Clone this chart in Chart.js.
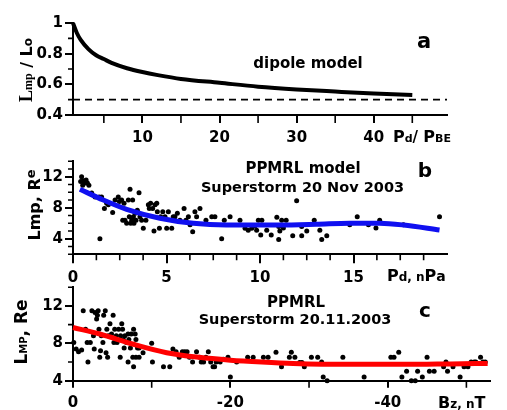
<!DOCTYPE html>
<html>
<head>
<meta charset="utf-8">
<script src="https://cdn.jsdelivr.net/npm/chart.js@4.4.1/dist/chart.umd.min.js"></script>
<style>
  html, body { margin: 0; padding: 0; background: #fff; }
  #wrap { position: relative; width: 507px; height: 410px; }
  canvas { position: absolute; left: 0; top: 0; }
</style>
</head>
<body>
<div id="wrap">
  <canvas id="cA" width="507" height="410"></canvas>
  <canvas id="cB" width="507" height="410"></canvas>
  <canvas id="cC" width="507" height="410"></canvas>
</div>
<script>
// ---- panel a: dipole model ----
const aCurveX = [1, 1.5, 2, 3, 4, 5, 6, 8, 10, 12, 15, 20, 25, 30, 35, 40, 45];
const aCurveY = [1.0, 0.935, 0.89, 0.83, 0.79, 0.765, 0.74, 0.705, 0.68, 0.66, 0.635, 0.61, 0.585, 0.567, 0.553, 0.54, 0.53];
const aLimitX = [1, 49.5];
const aLimitY = [0.5, 0.5];
const aXTicks = [10, 20, 30, 40];
const aXMinor = [5, 15, 25, 35, 45];
const aYTicks = [0.4, 0.6, 0.8, 1];
const aYMinor = [0.5, 0.7, 0.9];

// ---- panel b: PPMRL vs Pd ----
const bFitX = [0.37, 1.62, 2.87, 4.65, 6.43, 8.2, 11, 13, 14.8, 16.4, 17.67, 19.6];
const bFitY = [10.4, 9.0, 7.8, 6.65, 6.0, 5.78, 5.78, 5.87, 6.0, 6.0, 5.78, 5.14];
const bPtsX = [0.41, 0.46, 0.55, 0.52, 0.64, 0.7, 0.77, 0.85, 1.0, 1.18, 1.4, 1.53, 1.44, 1.68, 1.8, 1.89, 2.12, 2.25, 2.42, 2.48,
  2.6, 2.66, 2.73, 2.78, 2.87, 2.96, 3.01, 3.05, 3.09, 3.14, 3.19, 3.23, 3.26, 3.32, 3.37, 3.44, 3.53, 3.58, 3.67, 3.76,
  3.9, 4.03, 4.08, 4.15, 4.26, 4.33, 4.39, 4.48, 4.51, 4.62, 4.69, 4.8, 4.92, 5.01, 5.1, 5.28, 5.36, 5.45, 5.58, 5.72,
  5.94, 6.04, 6.17, 6.26, 6.4, 6.52, 6.61, 6.79, 7.11, 7.42, 7.59, 7.95, 8.09, 8.4, 8.93, 9.2, 9.37, 9.56, 9.73, 9.82,
  9.91, 10.04, 10.1, 10.36, 10.6, 10.9, 11.0, 11.06, 11.16, 11.25, 11.0, 11.4, 11.75, 11.96, 12.23, 12.23, 12.5, 12.9, 13.2, 13.3,
  13.57, 14.8, 15.2, 15.8, 16.2, 16.4, 17.67, 19.6];
const bPtsY = [11.4, 12.0, 11.5, 10.9, 11.2, 11.6, 11.2, 10.9, 9.9, 9.4, 9.4, 9.4, 4.0, 7.9, 8.6, 8.4, 7.4, 9.0, 9.4, 8.8,
  9.0, 6.4, 8.6, 6.4, 6.0, 9.0, 6.85, 10.4, 6.0, 6.4, 9.0, 6.85, 6.0, 7.3, 6.4, 7.7, 9.95, 6.85, 6.4, 5.35,
  6.4, 8.4, 7.9, 8.6, 7.9, 5.0, 8.4, 8.6, 7.5, 5.35, 6.85, 7.5, 6.85, 5.35, 7.5, 5.35, 6.85, 6.85, 7.3, 6.4,
  7.9, 6.4, 6.85, 5.8, 4.9, 7.5, 6.85, 7.9, 6.4, 6.85, 6.85, 4.0, 6.4, 6.85, 6.4, 5.35, 5.1, 5.35, 5.65, 5.1,
  6.4, 4.5, 6.4, 5.1, 4.5, 6.77, 5.6, 5.0, 6.4, 5.4, 3.9, 6.4, 4.4, 8.9, 5.6, 4.4, 5.0, 6.4, 5.1, 3.9,
  4.4, 5.8, 6.85, 5.8, 5.4, 6.4, 5.8, 6.85];
const bXTicks = [0, 5, 10, 15];
const bXMinor = [1.25, 2.5, 3.75, 6.25, 7.5, 8.75, 11.25, 12.5, 13.75, 16.25, 17.5, 18.75];
const bYTicks = [4, 8, 12];
const bYMinor = [2, 3, 5, 6, 7, 9, 10, 11, 13, 14];

// ---- panel c: PPMRL vs Bz ----
const cFitX = [0, -3.4, -7.7, -11.9, -16, -20, -24, -28, -35, -42, -48, -52.7];
const cFitY = [9.7, 9.0, 7.9, 7.0, 6.5, 6.2, 6.0, 5.85, 5.75, 5.75, 5.8, 5.85];
const cPtsX = [-0.1, -0.4, -0.7, -1.1, -1.3, -1.6, -1.8, -1.9, -2.2, -2.4, -2.6, -2.7, -2.8, -3.0, -3.1, -3.2, -3.3, -3.4, -3.5, -3.6,
  -3.8, -3.9, -4.1, -4.2, -4.3, -4.4, -4.5, -4.7, -4.9, -5.1, -5.2, -5.3, -5.5, -5.6, -5.8, -6.0, -6.05, -6.2, -6.3, -6.4,
  -6.5, -6.6, -6.8, -7.0, -7.0, -7.1, -7.3, -7.4, -7.6, -7.7, -7.7, -7.9, -8.0, -8.0, -8.2, -8.4, -8.4, -8.9, -10, -10.1,
  -11.5, -12.3, -12.7, -13.1, -13.5, -13.9, -14.2, -14.5, -14.8, -15.2, -15.7, -16.1, -16.3, -16.6, -16.9, -17.2, -17.5, -17.8, -18.0, -18.2,
  -18.7, -19.1, -19.7, -20.0, -20.8, -22.2, -22.9, -24.2, -24.8, -25.8, -26.5, -27.5, -27.75, -28.2, -28.8, -29.1, -29.4, -30.3, -31.1, -31.6,
  -31.8, -32.3, -34.3, -37.0, -40.4, -40.8, -41.4, -41.8, -42.4, -43.0, -43.5, -43.8, -44.4, -45.0, -45.3, -45.9, -47.1, -47.4, -47.6, -48.3,
  -49.2, -49.7, -50.2, -50.6, -51.0, -51.2, -51.8, -52.1, -52.4];
const cPtsY = [8.1, 7.4, 7.1, 7.3, 11.5, 9.5, 8.1, 6.0, 8.1, 11.5, 8.8, 7.4, 11.3, 10.6, 11.0, 11.5, 9.5, 6.5, 7.2, 8.8,
  8.1, 11.0, 11.5, 7.0, 9.5, 6.5, 8.8, 10.1, 9.0, 11.0, 8.1, 9.5, 8.8, 8.1, 9.5, 6.5, 8.8, 10.1, 9.5, 8.4,
  7.5, 8.8, 8.1, 9.0, 6.0, 8.4, 7.5, 9.0, 6.5, 9.5, 5.5, 9.0, 8.4, 6.5, 7.5, 7.5, 6.5, 7.0, 8.0, 6.0,
  5.5, 5.5, 7.4, 7.1, 6.5, 7.1, 7.1, 7.1, 6.5, 6.0, 7.1, 6.5, 6.0, 6.0, 6.5, 7.1, 6.0, 5.5, 5.5, 6.0,
  6.0, 6.3, 6.5, 4.4, 6.0, 6.5, 6.5, 6.5, 6.5, 7.05, 5.5, 6.5, 7.05, 6.5, 5.96, 5.96, 5.5, 6.5, 6.5, 6.0,
  4.4, 4.0, 6.5, 4.4, 6.5, 6.5, 7.05, 4.4, 5.0, 4.0, 4.0, 5.0, 4.4, 6.5, 5.0, 5.0, 5.5, 6.0, 5.0, 5.5,
  4.4, 5.5, 5.5, 6.0, 6.0, 6.0, 6.5, 6.0, 6.0];
const cXTicks = [0, -20, -40];
const cXMinor = [-10, -30, -50];
const cYTicks = [4, 8, 12];
const cYMinor = [6, 10, 14];

const W = 507, H = 410;
const FONT = 'DejaVu Sans';
const SERIF = '"Liberation Serif"';
Chart.defaults.font.family = FONT;
Chart.defaults.font.weight = 'bold';
Chart.defaults.font.size = 15;
Chart.defaults.color = '#000';

const pts = (xs, ys) => xs.map((x, i) => ({ x, y: ys[i] }));

// minor tick marks outside the axes
function minorTicks(cfg) {
  return {
    id: 'minorTicks',
    afterDraw(chart) {
      const ctx = chart.ctx, a = chart.chartArea;
      ctx.save();
      ctx.strokeStyle = '#000';
      ctx.lineWidth = 1.6;
      ctx.beginPath();
      cfg.x.forEach(v => {
        const p = chart.scales.x.getPixelForValue(v);
        ctx.moveTo(p, a.bottom); ctx.lineTo(p, a.bottom + cfg.xLen);
      });
      cfg.y.forEach(v => {
        const p = chart.scales.y.getPixelForValue(v);
        ctx.moveTo(a.left - cfg.yLen, p); ctx.lineTo(a.left, p);
      });
      ctx.stroke();
      ctx.restore();
    }
  };
}

// titles, letters and axis names with sub/superscripts
function richText(items) {
  return {
    id: 'richText',
    afterDraw(chart) {
      const ctx = chart.ctx;
      const fontOf = p => `bold ${p.s}px ${p.f || '"' + FONT + '"'}`;
      items.forEach(it => {
        ctx.save();
        ctx.translate(it.x, it.y);
        if (it.rot) ctx.rotate(it.rot);
        ctx.fillStyle = '#000';
        ctx.textBaseline = 'alphabetic';
        ctx.textAlign = 'left';
        let w = 0;
        it.parts.forEach(p => { ctx.font = fontOf(p); w += ctx.measureText(p.t).width; });
        let x = it.align === 'left' ? 0 : -w / 2;
        it.parts.forEach(p => {
          ctx.font = fontOf(p);
          ctx.fillText(p.t, x, p.dy || 0);
          x += ctx.measureText(p.t).width;
        });
        ctx.restore();
      });
    }
  };
}

function axis(o) {
  return {
    type: 'linear',
    min: o.min, max: o.max, reverse: !!o.reverse,
    afterBuildTicks: s => { s.ticks = o.ticks.map(v => ({ value: v })); },
    afterFit: s => { if (o.w !== undefined) s.width = o.w; else s.height = 40; },
    ticks: { autoSkip: false, maxRotation: 0, padding: o.pad, callback: v => String(v) },
    grid: { drawOnChartArea: false, drawTicks: true, tickLength: o.tl, color: '#000', lineWidth: 2 },
    border: { display: true, color: '#000', width: 2 }
  };
}

function panel(id, area, xs, ys, datasets, minor, texts) {
  return new Chart(document.getElementById(id), {
    type: 'scatter',
    data: { datasets },
    options: {
      responsive: false,
      animation: false,
      devicePixelRatio: 1,
      layout: { padding: { left: 0, top: area.top, right: W - area.right, bottom: H - area.bottom - 40 } },
      plugins: { legend: { display: false }, tooltip: { enabled: false } },
      scales: { x: axis(xs), y: axis(Object.assign({ w: area.left }, ys)) }
    },
    plugins: [minorTicks(minor), richText(texts)]
  });
}

const lineDs = (data, color, width) => ({
  data, showLine: true, borderColor: color, borderWidth: width, pointRadius: 0,
  tension: 0.4, cubicInterpolationMode: 'monotone', clip: false
});
const dotDs = data => ({
  data, pointRadius: 2.5, pointBackgroundColor: '#000', pointBorderWidth: 0, clip: false
});

// panel a
panel('cA', { left: 73, top: 23, right: 447, bottom: 115 },
  { min: 1, max: 49.5, ticks: aXTicks, tl: 8, pad: 6 },
  { min: 0.4, max: 1, ticks: aYTicks, tl: 8, pad: 2 },
  [
    lineDs(pts(aCurveX, aCurveY), '#000', 4),
    Object.assign(lineDs(pts(aLimitX, aLimitY), '#000', 1.6), { borderDash: [7, 5], tension: 0 })
  ],
  { x: aXMinor, xLen: 8, y: aYMinor, yLen: 5 },
  [
    { x: 32, y: 70, rot: -Math.PI / 2, parts: [
      { t: 'L', s: 18, f: SERIF }, { t: 'mp', s: 12, f: SERIF }, { t: ' / L', s: 16 }, { t: 'o', s: 12 }] },
    { x: 393, y: 142, align: 'left', parts: [
      { t: 'P', s: 16 }, { t: 'd', s: 11 }, { t: '/ ', s: 15 }, { t: 'P', s: 16 }, { t: 'BE', s: 11 }] },
    { x: 308, y: 68, parts: [{ t: 'dipole model', s: 15 }] },
    { x: 424, y: 48, parts: [{ t: 'a', s: 21 }] }
  ]);

// panel b
panel('cB', { left: 73, top: 161.3, right: 447, bottom: 254.3 },
  { min: 0, max: 20, ticks: bXTicks, tl: 9, pad: 6 },
  { min: 2, max: 14, ticks: bYTicks, tl: 8, pad: 2 },
  [lineDs(pts(bFitX, bFitY), '#1010f0', 5), dotDs(pts(bPtsX, bPtsY))],
  { x: bXMinor, xLen: 6, y: bYMinor, yLen: 5 },
  [
    { x: 40, y: 205, rot: -Math.PI / 2, parts: [{ t: 'Lmp, R', s: 16 }, { t: 'e', s: 13, dy: -5 }] },
    { x: 387, y: 281, align: 'left', parts: [
      { t: 'P', s: 16 }, { t: 'd, n', s: 12 }, { t: 'P', s: 16 }, { t: 'a', s: 14 }] },
    { x: 303, y: 173, parts: [{ t: 'PPMRL model', s: 15 }] },
    { x: 302.5, y: 192, parts: [{ t: 'Superstorm 20 Nov 2003', s: 14.5 }] },
    { x: 425, y: 177, parts: [{ t: 'b', s: 20 }] }
  ]);

// panel c
panel('cC', { left: 73, top: 287.3, right: 490, bottom: 380.7 },
  { min: -53, max: 0, reverse: true, ticks: cXTicks, tl: 7, pad: 6 },
  { min: 4, max: 14, ticks: cYTicks, tl: 8, pad: 2 },
  [lineDs(pts(cFitX, cFitY), '#ff0000', 5), dotDs(pts(cPtsX, cPtsY))],
  { x: cXMinor, xLen: 7, y: cYMinor, yLen: 5 },
  [
    { x: 27, y: 332, rot: -Math.PI / 2, parts: [{ t: 'L', s: 17 }, { t: 'MP', s: 10 }, { t: ', Re', s: 17 }] },
    { x: 438, y: 408, align: 'left', parts: [{ t: 'B', s: 16 }, { t: 'z, n', s: 12 }, { t: 'T', s: 16 }] },
    { x: 296, y: 307, parts: [{ t: 'PPMRL', s: 15 }] },
    { x: 295, y: 324, parts: [{ t: 'Superstorm 20.11.2003', s: 14.5 }] },
    { x: 425, y: 317, parts: [{ t: 'c', s: 20 }] }
  ]);
</script>
</body>
</html>
